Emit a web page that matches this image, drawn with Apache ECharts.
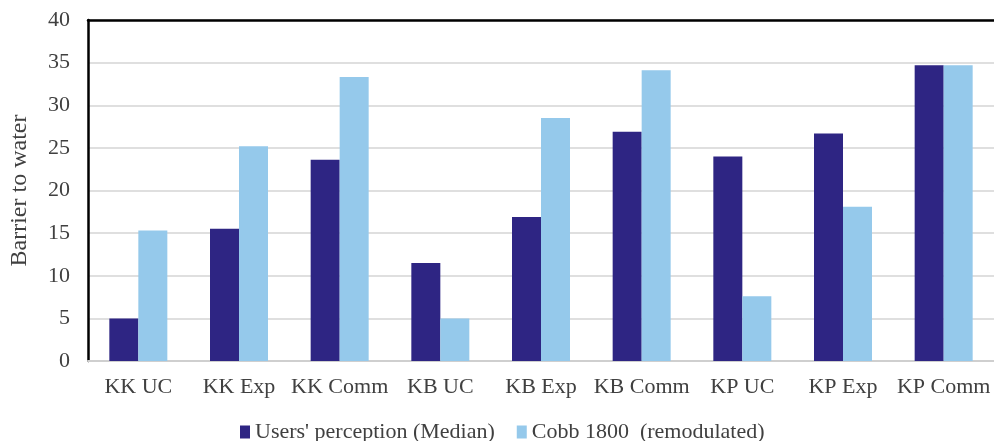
<!DOCTYPE html>
<html>
<head>
<meta charset="utf-8">
<script src="https://cdn.jsdelivr.net/npm/echarts@6/dist/echarts.min.js"></script>
<style>
  html, body { margin: 0; padding: 0; background: #fff; }
  #chart { width: 994px; height: 441px; }
</style>
</head>
<body>
<div id="chart"></div>
<script>
// Site / condition groups along the x axis
const categories = ['KK UC', 'KK Exp', 'KK Comm', 'KB UC', 'KB Exp', 'KB Comm', 'KP UC', 'KP Exp', 'KP Comm'];
// Barrier-to-water scores
const usersPerception = [5.0, 15.5, 23.6, 11.5, 16.9, 26.9, 24.0, 26.7, 34.7];
const cobbRemodulated = [15.3, 25.2, 33.3, 5.0, 28.5, 34.1, 7.6, 18.1, 34.7];
const seriesNames = ["Users' perception (Median)", 'Cobb 1800  (remodulated)'];
const yTicks = { min: 0, max: 40, interval: 5 };

const font = 'Liberation Serif';
const textColor = '#404040';
const fontSize = 22;

const chart = echarts.init(document.getElementById('chart'), null, { renderer: 'canvas' });
chart.setOption({
  animation: false,
  textStyle: { fontFamily: font },
  grid: { left: 85, right: -11, top: 20, bottom: 80, containLabel: false },
  legend: {
    left: 235,
    top: 416,
    itemWidth: 10,
    itemHeight: 13,
    itemGap: 22,
    icon: 'rect',
    textStyle: { fontFamily: font, fontSize: fontSize, color: textColor },
    data: seriesNames
  },
  xAxis: [{
    type: 'category',
    data: categories,
    axisLine: { lineStyle: { color: '#cfcfcf', width: 2 } },
    axisTick: { show: false },
    axisLabel: { fontFamily: font, fontSize: fontSize, color: textColor, margin: 15, interval: 0, hideOverlap: false }
  }, {
    type: 'category',
    position: 'top',
    data: categories,
    axisLine: { lineStyle: { color: '#000', width: 2.5 } },
    axisTick: { show: false },
    axisLabel: { show: false }
  }],
  yAxis: {
    type: 'value',
    min: yTicks.min,
    max: yTicks.max,
    interval: yTicks.interval,
    name: 'Barrier to water',
    nameLocation: 'middle',
    nameGap: 56,
    nameTextStyle: { fontFamily: font, fontSize: 24, color: textColor },
    axisLine: { show: true, lineStyle: { color: '#000', width: 2.5 } },
    axisTick: { show: false },
    axisLabel: { fontFamily: font, fontSize: fontSize, color: textColor, margin: 18 },
    splitLine: { lineStyle: { color: '#d4d4d4', width: 1.5 } }
  },
  series: [{
    name: seriesNames[0],
    type: 'bar',
    data: usersPerception,
    barWidth: 29,
    barGap: '0%',
    itemStyle: { color: '#2E2583' }
  }, {
    name: seriesNames[1],
    type: 'bar',
    data: cobbRemodulated,
    barWidth: 29,
    barGap: '0%',
    itemStyle: { color: '#95C9EB' }
  }]
});
</script>
</body>
</html>
